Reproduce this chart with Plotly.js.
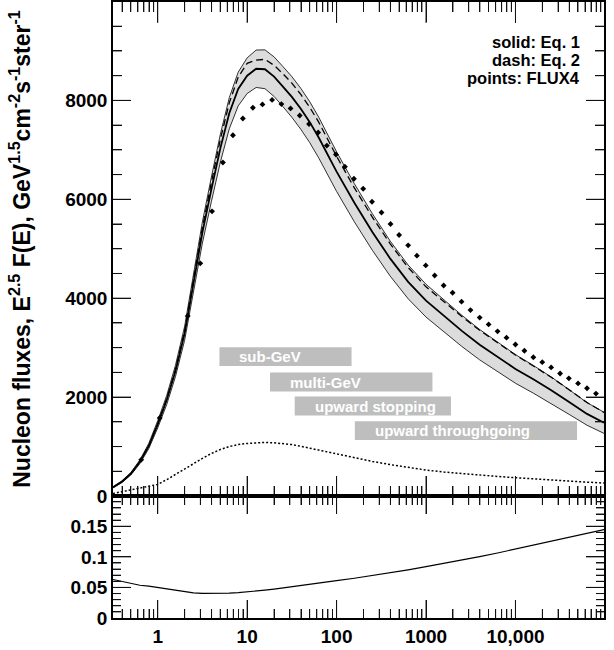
<!DOCTYPE html>
<html>
<head>
<meta charset="utf-8">
<script src="https://cdn.plot.ly/plotly-3.0.1.min.js"></script>
<style>html,body{margin:0;padding:0;background:#fff;}#plot{width:614px;height:650px;}</style>
</head>
<body>
<div id="plot"></div>
<script>
// Energy grid (GeV) shared by the model curves
const energy = [0.316, 0.398, 0.501, 0.631, 0.794, 1, 1.26, 1.58, 2, 2.51, 3.16, 3.98, 5.01, 6.31, 7.94,
  10, 12.6, 15.8, 20, 25.1, 31.6, 39.8, 50.1, 63.1, 79.4, 100, 158, 251, 398, 631, 1000, 1585, 2512,
  3981, 6310, 10000, 15850, 25120, 39810, 63100, 97700];
// Eq. 1 (solid)
const fluxEq1 = [175, 290, 450, 690, 1010, 1450, 1940, 2530, 3290, 4300, 5330, 6200, 7030, 7740, 8230,
  8500, 8640, 8630, 8480, 8280, 8070, 7830, 7560, 7250, 6900, 6560, 5930, 5340, 4800, 4330, 3950, 3640, 3340,
  3060, 2810, 2570, 2360, 2140, 1900, 1660, 1480];
// Eq. 2 (dashed)
const fluxEq2 = [175, 290, 452, 695, 1018, 1462, 1960, 2560, 3335, 4370, 5430, 6340, 7210, 7950, 8470,
  8750, 8815, 8830, 8710, 8540, 8350, 8120, 7860, 7560, 7220, 6870, 6230, 5640, 5100, 4620, 4230, 3930, 3630,
  3350, 3100, 2850, 2630, 2400, 2150, 1890, 1690];
// Relative uncertainty of Eq. 1 (lower panel, also the shaded band)
const relErr = [0.063, 0.060, 0.0565, 0.0535, 0.052, 0.050, 0.0475, 0.0452, 0.0428, 0.0412, 0.0402, 0.0400,
  0.0402, 0.0407, 0.0414, 0.0424, 0.0438, 0.0455, 0.0472, 0.049, 0.051, 0.0529, 0.0548, 0.0568, 0.0589, 0.061,
  0.065, 0.0693, 0.0738, 0.0788, 0.084, 0.0892, 0.0945, 0.1003, 0.1063, 0.1127, 0.1188, 0.125, 0.1314, 0.1378, 0.1446];
// dotted curve
const fluxDotted = [50, 85, 120, 160, 195, 235, 330, 440, 540, 650, 760, 860, 940, 1000, 1040,
  1062, 1078, 1083, 1075, 1060, 1040, 1005, 965, 925, 885, 850, 775, 700, 635, 575, 525, 485, 450,
  420, 395, 370, 345, 320, 300, 280, 262];
// FLUX4 points
const flux4E = [0.653, 1.052, 2.163, 2.992, 4.046, 5.358, 6.934, 8.954, 11.59, 14.83, 19.01, 24.15, 30.55,
  38.73, 49.2, 62.2, 77.8, 98.4, 123.9, 156.3, 198.2, 248.9, 317.7, 400.9, 500, 631, 790.7, 993, 1250, 1574,
  1982, 2495, 3141, 3981, 5012, 6310, 7943, 10000, 12590, 15850, 19950, 25060, 31550, 39540, 50120, 63100, 79430];
const flux4V = [731, 1577, 3640, 4705, 5757, 6745, 7296, 7635, 7851, 7919, 8010, 7925, 7838,
  7695, 7523, 7350, 7086, 6906, 6660, 6416, 6213, 5950, 5733, 5500, 5279, 5069, 4860, 4663, 4460, 4257,
  4110, 3930, 3760, 3608, 3470, 3330, 3202, 3063, 2937, 2806, 2707, 2600, 2477, 2380, 2277, 2180, 2071];
// Energy-range boxes
const boxLabels = ['sub-GeV', 'multi-GeV', 'upward stopping', 'upward throughgoing'];
const boxEmin = [4.9, 18, 34, 160];
const boxEmax = [147, 1180, 1900, 48800];
const boxLow = [2630, 2115, 1630, 1130];
const boxHigh = [3010, 2495, 2010, 1510];

const upper = fluxEq1.map((v, i) => v * (1 + relErr[i]));
const lower = fluxEq1.map((v, i) => v * (1 - relErr[i]));

// ---- axis geometry ----
const ML = 113, MR = 10, MT = 2, MB = 32, W = 614, H = 650;
const PW = W - ML - MR, PH = H - MT - MB;
const BOT_PX = 122, TOP_PX = PH - BOT_PX;
const split = BOT_PX / PH;
const XR = [-0.5, 4.99];
const YR = [0, 9990], Y2R = [0, 0.1995];
const logPerPx = (XR[1] - XR[0]) / PW;
const yTopPerPx = (YR[1] - YR[0]) / TOP_PX;
const yBotPerPx = (Y2R[1] - Y2R[0]) / BOT_PX;

// ---- ROOT-style tick marks on all four sides of both pads (line segments) ----
const tTopX = [], tTopY = [], tBotX = [], tBotY = [];
function seg(ax, ay, x0, x1, y0, y1) { ax.push(x0, x1, null); ay.push(y0, y1, null); }
const minorX = [];
for (let k = -1; k <= 4; k++) for (let m = 1; m <= 9; m++) {
  const v = m * Math.pow(10, k);
  if (v < 0.32 || v > 97000) continue;
  const major = (m === 1);
  if (!major) minorX.push(v);
  seg(tTopX, tTopY, v, v, YR[1], YR[1] - (major ? 21 : 10) * yTopPerPx);
  seg(tTopX, tTopY, v, v, YR[0], YR[0] + (major ? 20 : 10) * yTopPerPx);
  seg(tBotX, tBotY, v, v, Y2R[1], Y2R[1] - (major ? 18 : 9) * yBotPerPx);
  seg(tBotX, tBotY, v, v, Y2R[0], Y2R[0] + (major ? 18 : 9) * yBotPerPx);
}
const xLeft = Math.pow(10, XR[0]), xRight = Math.pow(10, XR[1]);
for (let v = 500; v < 9990; v += 500) {
  const L = (v % 2000 === 0) ? 18 : 9;
  seg(tTopX, tTopY, xLeft, Math.pow(10, XR[0] + L * logPerPx), v, v);
  seg(tTopX, tTopY, xRight, Math.pow(10, XR[1] - L * logPerPx), v, v);
}
for (let j = 1; j < 20; j++) {
  const v = j * 0.01;
  const L = (j % 5 === 0) ? 18 : 8;
  seg(tBotX, tBotY, xLeft, Math.pow(10, XR[0] + L * logPerPx), v, v);
  seg(tBotX, tBotY, xRight, Math.pow(10, XR[1] - L * logPerPx), v, v);
}

const FONT = 'Liberation Sans, Arial, sans-serif';
const traces = [];
traces.push({x: energy, y: upper, mode: 'lines', line: {color: '#000', width: 0.8}, xaxis: 'x', yaxis: 'y'});
traces.push({x: energy, y: lower, mode: 'lines', line: {color: '#000', width: 0.8}, fill: 'tonexty', fillcolor: '#dcdcdc', xaxis: 'x', yaxis: 'y'});
traces.push({x: energy, y: fluxEq1, mode: 'lines', line: {color: '#000', width: 1.8}, xaxis: 'x', yaxis: 'y'});
traces.push({x: energy, y: fluxEq2, mode: 'lines', line: {color: '#000', width: 1.3, dash: '7px,4px'}, xaxis: 'x', yaxis: 'y'});
traces.push({x: energy, y: fluxDotted, mode: 'lines', line: {color: '#000', width: 1.5, dash: '2px,2px'}, xaxis: 'x', yaxis: 'y'});
traces.push({x: flux4E, y: flux4V, mode: 'markers', marker: {symbol: 'diamond', size: 4.5, color: '#000'}, xaxis: 'x', yaxis: 'y'});
for (let i = 0; i < boxLabels.length; i++) {
  traces.push({x: [boxEmin[i], boxEmax[i], boxEmax[i], boxEmin[i], boxEmin[i]],
    y: [boxLow[i], boxLow[i], boxHigh[i], boxHigh[i], boxLow[i]],
    mode: 'lines', line: {width: 0, color: '#bebebe'}, fill: 'toself', fillcolor: '#bebebe', xaxis: 'x', yaxis: 'y'});
}
traces.push({x: energy, y: relErr, mode: 'lines', line: {color: '#000', width: 1.2}, xaxis: 'x2', yaxis: 'y2'});
traces.push({x: tTopX, y: tTopY, mode: 'lines', line: {color: '#111', width: 1}, xaxis: 'x', yaxis: 'y'});
traces.push({x: tBotX, y: tBotY, mode: 'lines', line: {color: '#111', width: 1}, xaxis: 'x2', yaxis: 'y2'});

const annotations = boxLabels.map((t, i) => ({
  x: Math.log10(boxEmin[i]), y: (boxLow[i] + boxHigh[i]) / 2, xref: 'x', yref: 'y',
  text: t, showarrow: false, xanchor: 'left', yanchor: 'middle', xshift: 18,
  font: {family: FONT, size: 15, color: '#fff', weight: 'bold'}
}));
const legendLines = ['solid: Eq. 1', 'dash: Eq. 2', 'points: FLUX4'];
const legendY = [42, 60, 78];
legendLines.forEach((t, i) => annotations.push({
  x: (581 - ML) / PW, y: (H - MB - legendY[i]) / PH, xref: 'paper', yref: 'paper',
  text: t, showarrow: false, xanchor: 'right', yanchor: 'middle', borderpad: 0,
  font: {family: FONT, size: 16.5, color: '#000', weight: 'bold'}
}));

const tickFont = {family: FONT, size: 19, color: '#000', weight: 'bold'};
const axBase = {showline: true, linecolor: '#000', linewidth: 1.5, mirror: 'ticks', showgrid: false, zeroline: false,
  ticks: 'inside', tickcolor: '#111', tickwidth: 1, exponentformat: 'none'};
const layout = {
  width: W, height: H,
  margin: {l: ML, r: MR, t: MT, b: MB},
  showlegend: false,
  xaxis: Object.assign({}, axBase, {type: 'log', range: XR, anchor: 'y', showticklabels: false,
    tickmode: 'linear', tick0: 0, dtick: 1, ticklen: 20,
    minor: {tickmode: 'array', tickvals: minorX, ticks: 'inside', ticklen: 10, tickcolor: '#111', tickwidth: 1}}),
  xaxis2: Object.assign({}, axBase, {type: 'log', range: XR, anchor: 'y2', matches: 'x',
    tickmode: 'linear', tick0: 0, dtick: 1, ticklen: 18, tickfont: tickFont,
    minor: {tickmode: 'array', tickvals: minorX, ticks: 'inside', ticklen: 9, tickcolor: '#111', tickwidth: 1}}),
  yaxis: Object.assign({}, axBase, {domain: [split, 1], range: YR, anchor: 'x',
    tickmode: 'linear', tick0: 0, dtick: 2000, ticklen: 18, tickfont: tickFont,
    minor: {tickmode: 'linear', tick0: 0, dtick: 500, ticks: 'inside', ticklen: 9, tickcolor: '#111', tickwidth: 1},
    title: {text: 'Nucleon fluxes, E<sup>2.5</sup> F(E), GeV<sup>1.5</sup>cm<sup>-2</sup>s<sup>-1</sup>ster<sup>-1</sup>',
      font: {family: FONT, size: 23, color: '#000', weight: 'bold'}, standoff: 28}}),
  yaxis2: Object.assign({}, axBase, {domain: [0, split], range: Y2R, anchor: 'x2',
    tickmode: 'linear', tick0: 0, dtick: 0.05, ticklen: 18, tickfont: tickFont,
    minor: {tickmode: 'linear', tick0: 0, dtick: 0.01, ticks: 'inside', ticklen: 8, tickcolor: '#111', tickwidth: 1}}),
  annotations: annotations
};
Plotly.newPlot('plot', traces, layout, {displayModeBar: false});
</script>
</body>
</html>
